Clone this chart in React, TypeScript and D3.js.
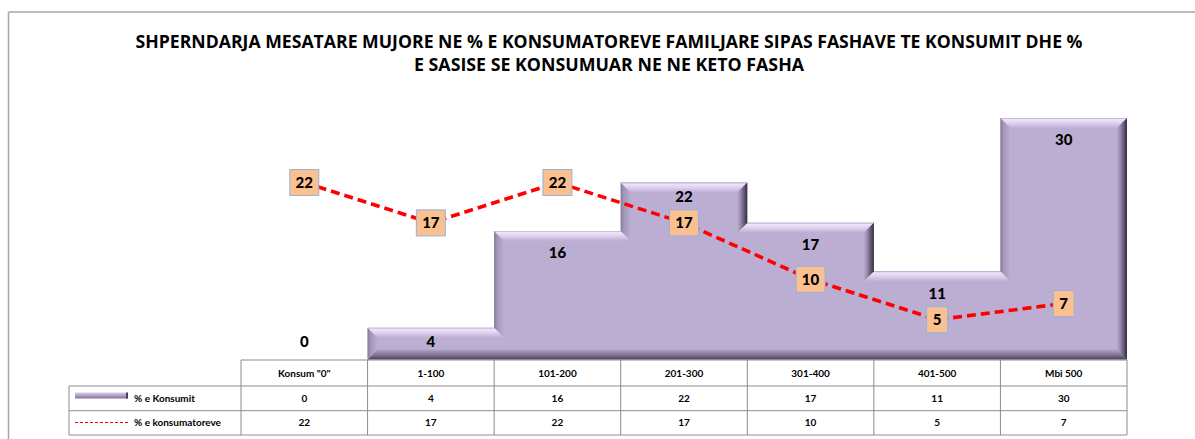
import React from 'react';
import * as d3 from 'd3';

const categories = ['Konsum "0"', '1-100', '101-200', '201-300', '301-400', '401-500', 'Mbi 500'];
const konsumitValues = [0, 4, 16, 22, 17, 11, 30];
const konsumatoreveValues = [22, 17, 22, 17, 10, 5, 7];
const seriesNames = ['% e Konsumit', '% e konsumatoreve'];
const titleLines = [
  'SHPERNDARJA MESATARE MUJORE NE % E KONSUMATOREVE FAMILJARE SIPAS FASHAVE TE KONSUMIT DHE %',
  'E SASISE SE KONSUMUAR NE NE KETO FASHA',
];

const W = 1195;
const H = 439;
const FONT = "Lato, 'Open Sans', 'DejaVu Sans', sans-serif";
const TITLE_FONT = "'Liberation Sans Narrow', 'Open Sans', Lato, sans-serif";

type Pt = [number, number];

function buildSilhouette(x: d3.ScaleBand<string>, y: d3.ScaleLinear<number, number>, base: number): Pt[] {
  const pts: Pt[] = [];
  let started = false;
  let lastX = 0;
  categories.forEach((c, i) => {
    const v = konsumitValues[i];
    if (v <= 0) return;
    const x0 = x(c)!;
    const x1 = x0 + x.bandwidth();
    const yy = y(v);
    if (!started) {
      pts.push([x0, base]);
      started = true;
    }
    pts.push([x0, yy]);
    pts.push([x1, yy]);
    lastX = x1;
  });
  pts.push([lastX, base]);
  const out: Pt[] = [];
  for (let i = 0; i < pts.length; i++) {
    const p = pts[i];
    const prev = out[out.length - 1];
    if (prev && prev[0] === p[0] && prev[1] === p[1]) continue;
    out.push(p);
  }
  const clean: Pt[] = [];
  const n = out.length;
  for (let i = 0; i < n; i++) {
    const a = out[(i - 1 + n) % n], b = out[i], c = out[(i + 1) % n];
    const cross = (b[0] - a[0]) * (c[1] - b[1]) - (b[1] - a[1]) * (c[0] - b[0]);
    if (Math.abs(cross) > 1e-9) clean.push(b);
  }
  return clean;
}

function dir(a: Pt, b: Pt): Pt {
  const dx = b[0] - a[0], dy = b[1] - a[1];
  const l = Math.hypot(dx, dy) || 1;
  return [dx / l, dy / l];
}

export default function App() {
  const plotLeft = 241;
  const plotRight = 1127;
  const base = 360;
  const x = d3.scaleBand<string>().domain(categories).range([plotLeft, plotRight]).padding(0);
  const y = d3.scaleLinear().domain([0, 30]).range([base, 118]);
  const cx = (c: string) => x(c)! + x.bandwidth() / 2;

  const poly = buildSilhouette(x, y, base - 0.5);
  const bev = 10;
  const n = poly.length;
  const inner: Pt[] = poly.map((p, i) => {
    const dp = dir(poly[(i - 1 + n) % n], p);
    const dn = dir(p, poly[(i + 1) % n]);
    const n1: Pt = [-dp[1], dp[0]];
    const n2: Pt = [-dn[1], dn[0]];
    return [p[0] + bev * (n1[0] + n2[0]), p[1] + bev * (n1[1] + n2[1])];
  });
  const strips = poly.map((p, i) => {
    const j = (i + 1) % n;
    const d = dir(p, poly[j]);
    let kind = 'top';
    if (d[0] > 0.5) kind = 'top';
    else if (d[0] < -0.5) kind = 'bottom';
    else if (d[1] < -0.5) kind = 'left';
    else kind = 'right';
    const pts = [p, poly[j], inner[j], inner[i]];
    return { kind, d: 'M' + pts.map((q) => q.join(',')).join('L') + 'Z' };
  });
  const order = ['bottom', 'left', 'top', 'right'];
  strips.sort((a, b) => order.indexOf(a.kind) - order.indexOf(b.kind));

  const line = d3
    .line<number>()
    .x((_, i) => cx(categories[i]))
    .y((v) => y(v));
  const linePath = line(konsumatoreveValues) || '';

  const barLabels = categories.map((c, i) => {
    const v = konsumitValues[i];
    let ly = Math.min(y(v) + 22, base - 18);
    const other = y(konsumatoreveValues[i]);
    if (Math.abs(ly - other) < 26) ly = other - 26;
    return { x: cx(c), y: ly, t: String(v) };
  });

  const tTop = 360;
  const rowsY = [360, 386, 410.7, 435];
  const legLeft = 69;
  const gridColor = '#8c8c8c';

  return (
    <div style={{ position: 'absolute', left: 0, top: 0 }}>
      <svg width={W} height={H} style={{ display: 'block', background: '#fff' }} fontFamily={FONT}>
        <defs>
          <linearGradient id="gTop" x1="0" y1="0" x2="0" y2="1">
            <stop offset="0" stopColor="#b3a5c7" />
            <stop offset="0.15" stopColor="#eee4fa" />
            <stop offset="0.45" stopColor="#e0d4ef" />
            <stop offset="1" stopColor="#beafd4" />
          </linearGradient>
          <linearGradient id="gLeft" x1="0" y1="0" x2="1" y2="0">
            <stop offset="0" stopColor="#85799a" />
            <stop offset="0.3" stopColor="#a395b8" />
            <stop offset="1" stopColor="#bcadd2" />
          </linearGradient>
          <linearGradient id="gRight" x1="1" y1="0" x2="0" y2="0">
            <stop offset="0" stopColor="#362d40" />
            <stop offset="0.25" stopColor="#5a4f6a" />
            <stop offset="0.7" stopColor="#9c8eb1" />
            <stop offset="1" stopColor="#b8a9ce" />
          </linearGradient>
          <linearGradient id="gBottom" x1="0" y1="1" x2="0" y2="0">
            <stop offset="0" stopColor="#4a4056" />
            <stop offset="0.4" stopColor="#7a6e8b" />
            <stop offset="1" stopColor="#b3a4c8" />
          </linearGradient>
          <linearGradient id="gLeg" x1="0" y1="0" x2="0" y2="1">
            <stop offset="0" stopColor="#d9cdea" />
            <stop offset="0.5" stopColor="#b0a1c6" />
            <stop offset="1" stopColor="#7f7394" />
          </linearGradient>
        </defs>

        <line x1={8.5} y1={12} x2={W} y2={12} stroke="#a6a6a6" strokeWidth={1.5} />
        <line x1={8.5} y1={12} x2={8.5} y2={H} stroke="#a6a6a6" strokeWidth={1.5} />

        <g fontFamily={TITLE_FONT} fontWeight={700} fill="#000" textAnchor="middle">
          <text x={609} y={48} fontSize={17} textLength={947} lengthAdjust="spacingAndGlyphs">{titleLines[0]}</text>
          <text x={609} y={71} fontSize={17} textLength={390} lengthAdjust="spacingAndGlyphs">{titleLines[1]}</text>
        </g>

        <path d={'M' + poly.map((p) => p.join(',')).join('L') + 'Z'} fill="#bcadd2" />
        {strips.map((s, i) => (
          <path key={i} d={s.d} fill={`url(#g${s.kind[0].toUpperCase() + s.kind.slice(1)})`} />
        ))}

        {barLabels.map((l, i) => (
          <text key={i} x={l.x} y={l.y} dy="0.36em" textAnchor="middle" fontSize={15} fontWeight={900} fill="#000">{l.t}</text>
        ))}

        <path d={linePath} fill="none" stroke="#ff0000" strokeWidth={3.6} strokeDasharray="9,5" />

        {konsumatoreveValues.map((v, i) => {
          const t = String(v);
          const bw = 13 + 8 * t.length;
          const bh = 26;
          const px = cx(categories[i]);
          const py = y(v);
          return (
            <g key={i}>
              <rect x={px - bw / 2} y={py - bh / 2} width={bw} height={bh} fill="#fac090" stroke="#95b3d7" strokeWidth={1} />
              <text x={px} y={py} dy="0.36em" textAnchor="middle" fontSize={15} fontWeight={900} fill="#000">{t}</text>
            </g>
          );
        })}

        <g fontSize={10} fontWeight={700} fill="#000">
          <line x1={plotLeft} y1={rowsY[0]} x2={plotRight} y2={rowsY[0]} stroke={gridColor} />
          {rowsY.slice(1).map((ry, i) => (
            <line key={i} x1={legLeft} y1={ry} x2={plotRight} y2={ry} stroke={gridColor} />
          ))}
          <line x1={legLeft} y1={rowsY[1]} x2={legLeft} y2={rowsY[3]} stroke={gridColor} />
          {categories.map((c, i) => (
            <line key={i} x1={x(c)!} y1={tTop} x2={x(c)!} y2={rowsY[3]} stroke={gridColor} />
          ))}
          <line x1={plotRight} y1={tTop} x2={plotRight} y2={rowsY[3]} stroke={gridColor} />

          {categories.map((c, i) => (
            <g key={i}>
              <text x={cx(c)} y={(rowsY[0] + rowsY[1]) / 2} dy="0.36em" textAnchor="middle">{c}</text>
              <text x={cx(c)} y={(rowsY[1] + rowsY[2]) / 2} dy="0.36em" textAnchor="middle">{konsumitValues[i]}</text>
              <text x={cx(c)} y={(rowsY[2] + rowsY[3]) / 2} dy="0.36em" textAnchor="middle">{konsumatoreveValues[i]}</text>
            </g>
          ))}

          <rect x={75} y={392.5} width={53} height={6} fill="url(#gLeg)" />
          <rect x={126} y={392.5} width={2} height={6} fill="#4a4056" />
          <line x1={75} y1={422.5} x2={128} y2={422.5} stroke="#ff0000" strokeWidth={1} strokeDasharray="3,2" />
          <text x={134} y={(rowsY[1] + rowsY[2]) / 2} dy="0.36em">{seriesNames[0]}</text>
          <text x={134} y={(rowsY[2] + rowsY[3]) / 2} dy="0.36em">{seriesNames[1]}</text>
        </g>
      </svg>
    </div>
  );
}
